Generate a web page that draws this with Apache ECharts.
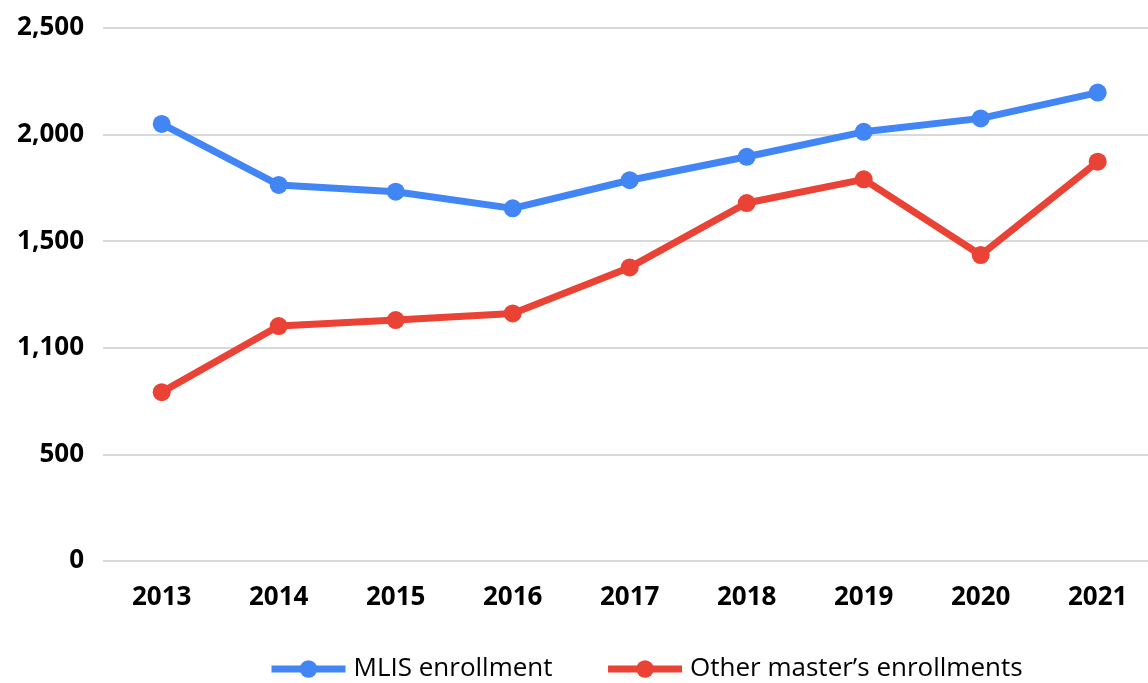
<!DOCTYPE html>
<html>
<head>
<meta charset="utf-8">
<script src="https://cdn.jsdelivr.net/npm/echarts@6/dist/echarts.min.js"></script>
<style>
html,body{margin:0;padding:0;background:#fff;}
#c{width:1148px;height:683px;}
</style>
</head>
<body>
<div id="c"></div>
<script>
const years = ["2013","2014","2015","2016","2017","2018","2019","2020","2021"];
const mlis = [2050, 1764, 1732, 1654, 1786, 1896, 2013, 2076, 2197];
const other = [792, 1102, 1130, 1161, 1377, 1679, 1790, 1435, 1873];
const yTickValues = [0, 500, 1000, 1500, 2000, 2500];
const yTickLabels = ["0", "500", "1,100", "1,500", "2,000", "2,500"];
const seriesNames = ["MLIS enrollment", "Other master\u2019s enrollments"];

const chart = echarts.init(document.getElementById('c'), null, {renderer: 'canvas'});
const labelFont = {fontFamily: 'Open Sans', fontWeight: 'bold', fontSize: 26, color: '#000'};
chart.setOption({
  animation: false,
  backgroundColor: '#fff',
  grid: [
    {left: 103, top: 28, right: 0, height: 533, containLabel: false},
    {left: 161.7, top: 28, width: 936, height: 533, containLabel: false}
  ],
  legend: {
    left: 263, top: 651,
    itemWidth: 74, itemHeight: 22, itemGap: 52,
    lineStyle: {width: 7},
    textStyle: {fontFamily: 'Open Sans', fontSize: 26, color: '#000', padding: [0,0,0,3]},
    data: seriesNames
  },
  xAxis: [
    {gridIndex: 0, type: 'category', data: years, show: false},
    {
      gridIndex: 1, type: 'category', data: years, boundaryGap: false,
      axisLine: {show: false}, axisTick: {show: false}, splitLine: {show: false},
      axisLabel: Object.assign({margin: 24}, labelFont)
    }
  ],
  yAxis: [
    {
      gridIndex: 0, type: 'value', min: 0, max: 2500, interval: 500,
      axisLine: {show: false}, axisTick: {show: false},
      splitLine: {lineStyle: {color: '#d9d9d9', width: 2}},
      axisLabel: Object.assign({
        margin: 19,
        formatter: function (v) { const i = yTickValues.indexOf(v); return i >= 0 ? yTickLabels[i] : ''; }
      }, labelFont)
    },
    {gridIndex: 1, type: 'value', min: 0, max: 2500, interval: 500, show: false, splitLine: {show: false}}
  ],
  series: [
    {
      name: seriesNames[0], type: 'line', data: mlis, xAxisIndex: 1, yAxisIndex: 1,
      symbol: 'circle', symbolSize: 18,
      lineStyle: {color: '#4285F4', width: 7},
      itemStyle: {color: '#4285F4'}
    },
    {
      name: seriesNames[1], type: 'line', data: other, xAxisIndex: 1, yAxisIndex: 1,
      symbol: 'circle', symbolSize: 18,
      lineStyle: {color: '#EA4335', width: 7},
      itemStyle: {color: '#EA4335'}
    }
  ]
});
</script>
</body>
</html>
